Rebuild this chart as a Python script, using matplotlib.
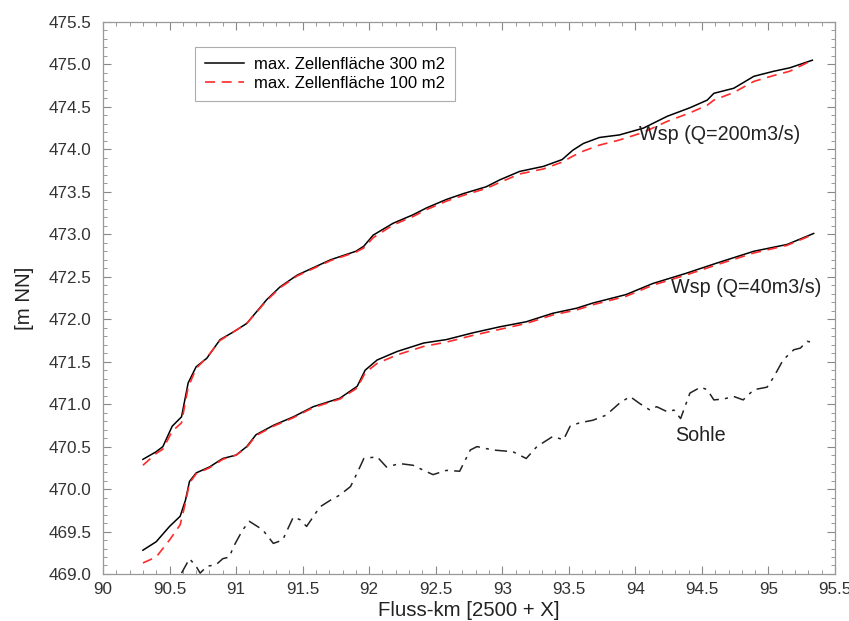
import numpy as np
import matplotlib
matplotlib.use("Agg")
import matplotlib.pyplot as plt
from matplotlib.ticker import MultipleLocator, FormatStrFormatter, FuncFormatter

plt.rcParams["font.family"] = ["Liberation Sans", "DejaVu Sans"]

# -----------------------------------------------------------------------------
# Data
# -----------------------------------------------------------------------------
km_q200_300 = [90.30, 90.40, 90.45, 90.52, 90.59, 90.64, 90.70, 90.78, 90.88, 90.98,
               91.08, 91.23, 91.33, 91.46, 91.71, 91.90, 91.96, 92.03, 92.18, 92.33,
               92.43, 92.58, 92.71, 92.88, 92.98, 93.13, 93.31, 93.45, 93.53, 93.61,
               93.73, 93.88, 94.06, 94.24, 94.41, 94.54, 94.59, 94.74, 94.89, 95.04,
               95.16, 95.33]
wsp_q200_300 = [470.35, 470.44, 470.50, 470.74, 470.85, 471.25, 471.44, 471.54, 471.76, 471.85,
                471.95, 472.23, 472.38, 472.52, 472.70, 472.80, 472.86, 472.99, 473.13, 473.23,
                473.31, 473.41, 473.48, 473.56, 473.64, 473.74, 473.80, 473.88, 473.99, 474.07,
                474.14, 474.17, 474.25, 474.39, 474.49, 474.58, 474.66, 474.72, 474.86, 474.92,
                474.96, 475.05]

km_q200_100 = [90.30, 90.40, 90.45, 90.52, 90.59, 90.64, 90.70, 90.78, 90.88, 90.98,
               91.08, 91.23, 91.33, 91.46, 91.71, 91.90, 91.96, 92.03, 92.18, 92.33,
               92.43, 92.58, 92.71, 92.88, 92.98, 93.13, 93.31, 93.45, 93.53, 93.61,
               93.73, 93.88, 94.06, 94.24, 94.41, 94.54, 94.59, 94.74, 94.89, 95.04,
               95.16, 95.33]
wsp_q200_100 = [470.28, 470.42, 470.47, 470.68, 470.78, 471.20, 471.42, 471.55, 471.75, 471.85,
                471.95, 472.22, 472.37, 472.51, 472.69, 472.79, 472.84, 472.96, 473.11, 473.21,
                473.29, 473.39, 473.46, 473.54, 473.61, 473.71, 473.77, 473.85, 473.92, 473.98,
                474.05, 474.11, 474.20, 474.33, 474.43, 474.52, 474.58, 474.67, 474.80, 474.87,
                474.92, 475.05]

km_q40_300 = [90.30, 90.40, 90.50, 90.58, 90.62, 90.65, 90.70, 90.80, 90.90, 91.00,
              91.08, 91.15, 91.28, 91.43, 91.58, 91.78, 91.91, 91.97, 92.06, 92.21,
              92.41, 92.58, 92.78, 92.98, 93.18, 93.38, 93.56, 93.68, 93.93, 94.13,
              94.38, 94.61, 94.89, 95.14, 95.34]
wsp_q40_300 = [469.28, 469.38, 469.56, 469.68, 469.87, 470.09, 470.19, 470.26, 470.36, 470.40,
               470.50, 470.64, 470.75, 470.85, 470.97, 471.07, 471.21, 471.40, 471.52, 471.62,
               471.72, 471.76, 471.84, 471.91, 471.97, 472.07, 472.13, 472.19, 472.29, 472.42,
               472.54, 472.66, 472.80, 472.88, 473.01]

km_q40_100 = [90.30, 90.40, 90.50, 90.58, 90.62, 90.65, 90.70, 90.80, 90.90, 91.00,
              91.08, 91.15, 91.28, 91.43, 91.58, 91.78, 91.91, 91.97, 92.06, 92.21,
              92.41, 92.58, 92.78, 92.98, 93.18, 93.38, 93.56, 93.68, 93.93, 94.13,
              94.38, 94.61, 94.89, 95.14, 95.34]
wsp_q40_100 = [469.13, 469.20, 469.40, 469.58, 469.84, 470.07, 470.18, 470.25, 470.35, 470.40,
               470.49, 470.63, 470.74, 470.84, 470.96, 471.06, 471.19, 471.37, 471.48, 471.58,
               471.68, 471.73, 471.81, 471.88, 471.95, 472.05, 472.11, 472.17, 472.27, 472.40,
               472.52, 472.64, 472.78, 472.87, 473.00]

km_sohle = [90.59, 90.65, 90.70, 90.73, 90.78, 90.85, 90.90, 90.95, 90.98, 91.05,
            91.10, 91.20, 91.28, 91.35, 91.43, 91.48, 91.53, 91.63, 91.71, 91.78,
            91.86, 91.91, 91.96, 92.06, 92.13, 92.23, 92.33, 92.41, 92.48, 92.58,
            92.68, 92.76, 92.81, 92.93, 93.08, 93.18, 93.26, 93.38, 93.46, 93.51,
            93.58, 93.68, 93.78, 93.88, 93.96, 94.03, 94.11, 94.16, 94.24, 94.29,
            94.34, 94.41, 94.49, 94.54, 94.59, 94.66, 94.74, 94.81, 94.89, 94.99,
            95.04, 95.11, 95.19, 95.24, 95.29, 95.35]
z_sohle = [469.01, 469.18, 469.09, 469.01, 469.09, 469.11, 469.18, 469.20, 469.32, 469.52,
           469.62, 469.52, 469.36, 469.40, 469.67, 469.64, 469.56, 469.79, 469.87, 469.93,
           470.03, 470.19, 470.36, 470.38, 470.26, 470.30, 470.28, 470.22, 470.17, 470.22,
           470.21, 470.46, 470.50, 470.46, 470.44, 470.36, 470.50, 470.62, 470.58, 470.74,
           470.78, 470.81, 470.87, 471.01, 471.09, 471.01, 470.93, 470.97, 470.91, 470.93,
           470.83, 471.13, 471.20, 471.17, 471.05, 471.06, 471.09, 471.05, 471.17, 471.20,
           471.32, 471.52, 471.64, 471.66, 471.74, 471.72]

legend_labels = ["max. Zellenfläche 300 m2", "max. Zellenfläche 100 m2"]

# -----------------------------------------------------------------------------
# Figure
# -----------------------------------------------------------------------------
fig = plt.figure(figsize=(8.49, 6.21), dpi=100)
ax = fig.add_axes([0.1213, 0.0757, 0.8622, 0.8889])

ax.plot(km_q200_300, wsp_q200_300, color="black", lw=1.1, label=legend_labels[0])
ax.plot(km_q200_100, wsp_q200_100, color="#ff2a2a", lw=1.2, dashes=(6, 4), label=legend_labels[1])
ax.plot(km_q40_300, wsp_q40_300, color="black", lw=1.1)
ax.plot(km_q40_100, wsp_q40_100, color="#ff2a2a", lw=1.2, dashes=(6, 4))
ax.plot(km_sohle, z_sohle, color="#222222", lw=1.1, dashes=(8, 4, 2, 4))

txt_kw = dict(fontsize=14.2, color="#222222", va="center", ha="left")
ax.text(94.03, 474.17, "Wsp (Q=200m3/s)", **txt_kw)
ax.text(94.27, 472.37, "Wsp (Q=40m3/s)", **txt_kw)
ax.text(94.30, 470.63, "Sohle", **txt_kw)

ax.set_xlim(90, 95.5)
ax.set_ylim(469.0, 475.5)

ax.xaxis.set_major_locator(MultipleLocator(0.5))
ax.xaxis.set_minor_locator(MultipleLocator(0.1))
ax.yaxis.set_major_locator(MultipleLocator(0.5))
ax.yaxis.set_minor_locator(MultipleLocator(0.1))
ax.xaxis.set_major_formatter(FuncFormatter(lambda v, p: f"{v:g}"))
ax.yaxis.set_major_formatter(FormatStrFormatter("%.1f"))

ax.tick_params(which="both", direction="in", top=True, right=True,
               colors="#888888", labelcolor="#333333", labelsize=12.3)
ax.tick_params(which="major", length=6, width=0.8)
ax.tick_params(which="minor", length=3, width=0.6)
ax.tick_params(axis="x", which="major", pad=6)
ax.tick_params(axis="y", which="major", pad=8)
for s in ax.spines.values():
    s.set_color("#999999")
    s.set_linewidth(0.9)

ax.set_xlabel("Fluss-km [2500 + X]", fontsize=14.7, color="#222222", labelpad=3)
ax.set_ylabel("[m NN]", fontsize=14.7, color="#222222", labelpad=11)

leg = ax.legend(loc="upper left", bbox_to_anchor=(0.126, 0.955), fontsize=12,
                frameon=True, fancybox=False, handlelength=2.3, handletextpad=0.6,
                borderpad=0.6, labelspacing=0.25, borderaxespad=0)
leg.get_frame().set_edgecolor("#999999")
leg.get_frame().set_linewidth(0.8)

fig.savefig("out.png", dpi=100)
